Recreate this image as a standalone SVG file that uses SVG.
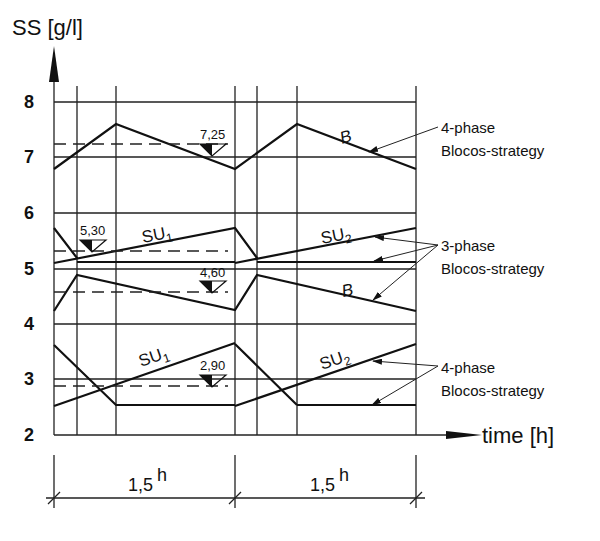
<svg xmlns="http://www.w3.org/2000/svg" width="600" height="541" viewBox="0 0 600 541">
<style>
.g{stroke:#222;stroke-width:1.3;fill:none}
.c{stroke:#111;stroke-width:2.2;fill:none;stroke-linejoin:miter}
.d{stroke:#222;stroke-width:1.5;fill:none;stroke-dasharray:12 7}
.l{stroke:#222;stroke-width:1;fill:none}
text{font-family:"Liberation Sans",Arial,sans-serif;fill:#111}
.t{font-size:18px;font-weight:bold}
.r{font-size:15px}
.v{font-size:13px}
.s{font-size:17px}
</style>
<defs>
<marker id="a" markerWidth="10" markerHeight="6" refX="9" refY="3" orient="auto" markerUnits="userSpaceOnUse"><path d="M0,0 L10,3 L0,6 Z" fill="#111"/></marker>
<g id="tri"><path d="M0,0 H26 L12,12 Z" fill="none" stroke="#111" stroke-width="1.2"/><path d="M0,0 H12 V12 Z" fill="#111"/></g>
</defs>
<g id="grid">
<path class="g" d="M54,102H416M54,157H416M54,213H416M54,269H416M54,324H416M54,379H416"/>
<path class="g" d="M77,86V435M116,86V435M235,86V435M257,86V435M297,86V435M416,86V435"/>
</g>
<g id="axes">
<path class="g" d="M54,435V80" stroke-width="1.6"/>
<path d="M49,82L54,46L59,82Z" fill="#111"/>
<path class="g" d="M54,435H450" stroke-width="1.6"/>
<path d="M446,431L482,435L446,439Z" fill="#111"/>
<text x="12" y="35" style="font-size:22px">SS [g/l]</text>
<text x="482" y="443" style="font-size:22px">time [h]</text>
<text class="t" x="24" y="108">8</text>
<text class="t" x="24" y="163">7</text>
<text class="t" x="24" y="219">6</text>
<text class="t" x="24" y="275">5</text>
<text class="t" x="24" y="330">4</text>
<text class="t" x="24" y="385">3</text>
<text class="t" x="24" y="441">2</text>
</g>
<g id="curves">
<path class="c" d="M54,169L116,124L235,169L297,124L416,169"/>
<path class="d" d="M54,144H228"/>
<use href="#tri" x="200" y="144"/>
<text class="v" x="200" y="139">7,25</text>
<path class="c" d="M54,263L235,228L257,258M54,228L77,258M77,262H235M235,263L416,228M257,262H416"/>
<path class="d" d="M54,251H228"/>
<use href="#tri" x="80" y="240"/>
<text class="v" x="80" y="235">5,30</text>
<path class="c" d="M54,311L77,275L235,310L257,275L416,311"/>
<path class="d" d="M54,292H228"/>
<use href="#tri" x="200" y="281"/>
<text class="v" x="200" y="277">4,60</text>
<path class="c" d="M54,345L116,405H235M297,405H416M235,344L297,405M54,406L235,343M235,406L416,344"/>
<path class="d" d="M54,386H228"/>
<use href="#tri" x="200" y="375"/>
<text class="v" x="200" y="370">2,90</text>
<text class="s" transform="translate(143,243) rotate(-11)">SU<tspan dy="4" font-size="12">1</tspan></text>
<text class="s" transform="translate(322,244) rotate(-11)">SU<tspan dy="4" font-size="12">2</tspan></text>
<text class="s" transform="translate(141,367) rotate(-19)">SU<tspan dy="4" font-size="12">1</tspan></text>
<text class="s" transform="translate(322,370) rotate(-19)">SU<tspan dy="4" font-size="12">2</tspan></text>
<text class="s" font-style="italic" transform="translate(342,144) rotate(-18)">B</text>
<text class="s" font-style="italic" transform="translate(343,297) rotate(-12)">B</text>
</g>
<g id="labels">
<text class="r" x="441" y="133">4-phase</text>
<text class="r" x="441" y="156">Blocos-strategy</text>
<text class="r" x="441" y="251">3-phase</text>
<text class="r" x="441" y="274">Blocos-strategy</text>
<text class="r" x="441" y="373">4-phase</text>
<text class="r" x="441" y="396">Blocos-strategy</text>
</g>
<g id="connectors">
<path class="l" d="M438,127L369,152" marker-end="url(#a)"/>
<path class="l" d="M438,245L375,237" marker-end="url(#a)"/>
<path class="l" d="M438,245L374,261" marker-end="url(#a)"/>
<path class="l" d="M438,245L373,300" marker-end="url(#a)"/>
<path class="l" d="M438,366L373,361" marker-end="url(#a)"/>
<path class="l" d="M438,366L372,405" marker-end="url(#a)"/>
</g>
<g id="dimension">
<path class="g" d="M54,455V508M235,455V508M416,455V508M46,498H425"/>
<path class="g" d="M48,504L60,492M229,504L241,492M410,504L422,492"/>
<text x="128" y="491" style="font-size:18px">1,5<tspan dx="4" dy="-10">h</tspan></text>
<text x="310" y="491" style="font-size:18px">1,5<tspan dx="4" dy="-10">h</tspan></text>
</g>
</svg>
